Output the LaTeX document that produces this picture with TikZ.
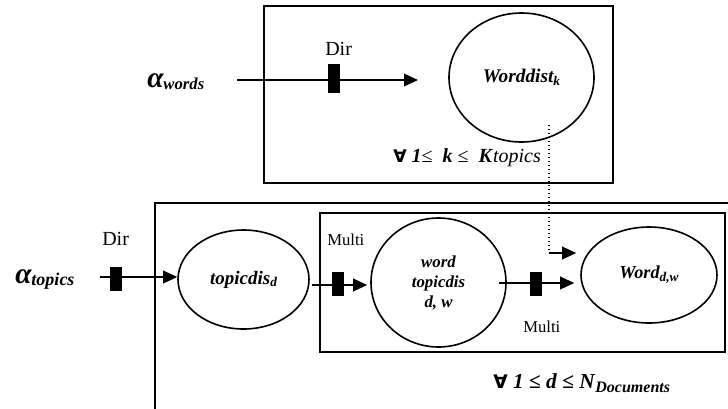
\documentclass[tikz,border=0pt]{standalone}
\usepackage{fontspec}
\usepackage{graphicx}
\setmainfont{Liberation Serif}
\newfontfamily\djv{DejaVu Sans}
\usetikzlibrary{shapes.geometric,arrows.meta}
\newcommand{\fsz}[1]{\fontsize{#1}{#1}\selectfont}
\begin{document}
\begin{tikzpicture}[x=0.75pt,y=-0.75pt,
  plate/.style={draw, line width=1.5pt},
  innerplate/.style={draw, line width=1.2pt},
  var/.style={draw, ellipse, line width=1.2pt, inner sep=0pt, align=center, font=\bfseries\itshape},
  gate/.style={fill=black, minimum width=9pt, minimum height=18pt, inner sep=0pt},
  edge/.style={line width=1.1pt, -{Triangle[length=10.5pt,width=9.5pt]}},
  lbl/.style={inner sep=0pt, anchor=base west},
]
\useasboundingbox (0,0) rectangle (728,408);
\clip (0,0) rectangle (728,408);

% plates
\draw[plate] (264,6) rectangle (613,183);
\draw[plate] (155,203) rectangle (900,600);
\draw[innerplate] (320,213) rectangle (725,352);

% variables
\node[var, minimum width=108.75pt, minimum height=96.75pt, font=\bfseries\itshape\fsz{14.5}] (wdist) at (521.5,77.5) {Worddist\raisebox{-2pt}{\fsz{10}k}};
\node[var, minimum width=98.25pt, minimum height=74.25pt, font=\bfseries\itshape\fsz{14.25}] (tdis) at (243.5,279.5) {topicdis\raisebox{-2pt}{\fsz{10}d}};
\node[var, minimum width=101.25pt, minimum height=96.75pt, font=\bfseries\itshape\fontsize{12.6}{15}\selectfont] (wtd) at (438.5,282.5) {word\\topicdis\\d, w};
\node[var, minimum width=102pt, minimum height=72pt, font=\bfseries\itshape\fsz{13.7}] (word) at (649,275) {Word\raisebox{-2pt}{\fsz{10}d,w}};

% hyperparameters
\node[lbl, font=\bfseries\itshape] (aw) at (147,87) {\fsz{22}α\raisebox{-2pt}{\fsz{12.5}words}};
\node[lbl, font=\bfseries\itshape] (at) at (15,283) {\fsz{22}α\raisebox{-2pt}{\fsz{13.5}topics}};

% edge labels
\node[lbl, font=\fsz{15}] (dir1) at (325,55) {Dir};
\node[lbl, font=\fsz{15}] (dir2) at (102,245) {Dir};
\node[lbl, font=\fsz{12.5}] (multi1) at (327,245) {Multi};
\node[lbl, font=\fsz{12.5}] (multi2) at (523,332) {Multi};

% plate labels
\node[lbl, font=\fsz{15}] (klab) at (393,162) {{\djv\bfseries\fsz{13}∀} \textbf{\textit{1}}≤\ \ \textbf{\textit{k}} ≤\ \ \textbf{\textit{K}}\textit{topics}};
\node[lbl, font=\fsz{16}] (dlab) at (493,388) {{\djv\bfseries\fsz{14}∀} \textbf{\textit{1}} \textbf{≤} \textbf{\textit{d}} \textbf{≤} \textbf{\textit{N}}\raisebox{-3pt}{\fsz{12}\bfseries\itshape Documents}};

% connector end points
\coordinate (s1) at (237,80);
\coordinate (t1) at (418,80);
\coordinate (s2) at (100,277);
\coordinate (r1) at (0,285);
\coordinate (r2) at (0,283);
\coordinate (d0) at (549,125);
\coordinate (d1) at (549,253);

% connectors
\draw[edge] (s1) -- (t1);
\draw[edge] (s2) -- (s2 -| tdis.west);
\draw[edge, shorten <=1.5pt, shorten >=2.25pt] (tdis.east |- r1) -- (wtd.west |- r1);
\draw[edge, shorten <=-6pt, shorten >=4.5pt] (wtd.east |- r2) -- (word.west |- r2);
\draw[line width=1pt, dotted] (d0) -- (d1);
\draw[edge, shorten >=3pt] (d1) -- (d1 -| word.west);

% gates
\node[gate, minimum height=21.75pt] (g1) at (334,78.5) {};
\node[gate] (g2) at (116,279) {};
\node[gate] (g3) at (338,284) {};
\node[gate] (g4) at (536,284) {};
\end{tikzpicture}
\end{document}
